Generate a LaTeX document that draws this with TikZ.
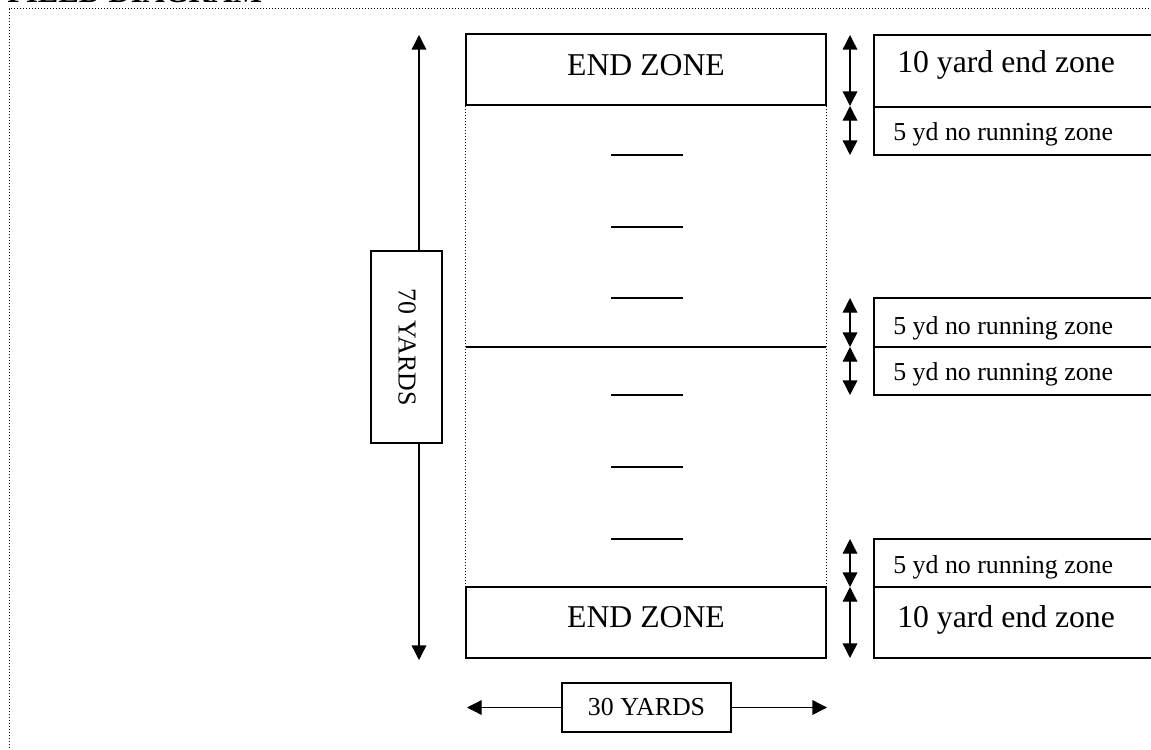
\documentclass[tikz,border=0pt]{standalone}
\usepackage{fontspec}
\setmainfont{Liberation Serif}
\usetikzlibrary{arrows.meta}
\begin{document}
\begin{tikzpicture}[x=0.75pt,y=-0.75pt,
  boxline/.style={draw, line width=1.2pt, inner sep=0pt, anchor=center},
  big/.style={font=\fontsize{23.8}{26}\selectfont},
  small/.style={font=\fontsize{19.4}{22}\selectfont},
  dimarrow/.style={line width=1pt, -{Triangle[width=11pt,length=11pt]}},
  dbl/.style={line width=1pt, {Triangle[width=11pt,length=11pt]}-{Triangle[width=11pt,length=11pt]}},
  yardline/.style={line width=1.5pt},
  frame/.style={line width=0.75pt, dash pattern=on 0.75pt off 1.5pt}]
\useasboundingbox (0,0) rectangle (1151,749);
\clip (0,0) rectangle (1151,749);

% title (cut off at top) and dotted frame
\node[anchor=base west, inner sep=0pt, font=\bfseries\fontsize{23}{25}\selectfont] (title) at (7,3) {FIELD DIAGRAM};
\coordinate (fr1) at (9,760);
\coordinate (fr2) at (9,9);
\coordinate (fr3) at (1160,9);
\draw[frame] (fr1) -- (fr2) -- (fr3);

% field
\node[boxline, minimum width=270pt, minimum height=53.25pt] (ez1) at (646,69.5) {};
\node[boxline, minimum width=270pt, minimum height=53.25pt] (ez2) at (646,622.5) {};
\node[big, anchor=base, inner sep=0pt] (ez1t) at (646,75) {END ZONE};
\node[big, anchor=base, inner sep=0pt] (ez2t) at (646,627) {END ZONE};
\draw[frame] (ez1.south west) -- (ez2.north west);
\draw[frame] (ez1.south east) -- (ez2.north east);
\coordinate (m1) at (466,347);
\coordinate (m2) at (826,347);
\draw[line width=1pt] (m1) -- (m2);
\foreach \i/\y in {1/155,2/227,3/298,4/395,5/467,6/539}{
  \coordinate (yl\i a) at (611,\y);
  \coordinate (yl\i b) at (683,\y);
  \draw[yardline] (yl\i a) -- (yl\i b);
}

% 70 yards
\node[boxline, line width=1pt, minimum width=53.25pt, minimum height=144pt] (ly) at (406.5,347) {};
\node[small, rotate=-90, inner sep=0pt] (lyt) at (407,347) {70 YARDS};
\coordinate (ltop) at (419,35);
\coordinate (lbot) at (419,660);
\draw[dimarrow] (ltop |- ly.north) -- (ltop);
\draw[dimarrow] (lbot |- ly.south) -- (lbot);

% 30 yards
\node[boxline, line width=1pt, small, minimum width=126.75pt, minimum height=36.75pt] (wy) at (646.5,707.5) {30 YARDS};
\coordinate (wl) at (467,707.5);
\coordinate (wr) at (827,707.5);
\draw[dimarrow] (wy.west) -- (wl);
\draw[dimarrow] (wy.east) -- (wr);

% right side boxes
\node[boxline, minimum width=214.5pt, minimum height=54pt] (r1) at (1017,71) {};
\node[boxline, minimum width=214.5pt, minimum height=36pt] (r2) at (1017,131) {};
\node[boxline, minimum width=214.5pt, minimum height=36.75pt] (r3) at (1017,322.5) {};
\node[boxline, minimum width=214.5pt, minimum height=36pt] (r4) at (1017,371) {};
\node[boxline, minimum width=214.5pt, minimum height=36pt] (r5) at (1017,563) {};
\node[boxline, minimum width=214.5pt, minimum height=53.25pt] (r6) at (1017,622.5) {};
\node[big, anchor=base west, inner sep=0pt] (r1t) at (897,73) {10 yard end zone};
\node[small, anchor=base west, inner sep=0pt] (r2t) at (893,140) {5 yd no running zone};
\node[small, anchor=base west, inner sep=0pt] (r3t) at (893,334) {5 yd no running zone};
\node[small, anchor=base west, inner sep=0pt] (r4t) at (893,380) {5 yd no running zone};
\node[small, anchor=base west, inner sep=0pt] (r5t) at (893,573) {5 yd no running zone};
\node[big, anchor=base west, inner sep=0pt] (r6t) at (897,627) {10 yard end zone};

% right side double arrows
\coordinate (a1) at (850,35);
\coordinate (a2) at (850,106);
\coordinate (a3) at (850,155);
\coordinate (a4) at (850,298);
\coordinate (a5) at (850,347);
\coordinate (a6) at (850,395);
\coordinate (a7) at (850,539);
\coordinate (a8) at (850,587);
\coordinate (a9) at (850,658);
\draw[dbl] (a1) -- (a2);
\draw[dbl] (a2) -- (a3);
\draw[dbl] (a4) -- (a5);
\draw[dbl] (a5) -- (a6);
\draw[dbl] (a7) -- (a8);
\draw[dbl] (a8) -- (a9);
\end{tikzpicture}
\end{document}
